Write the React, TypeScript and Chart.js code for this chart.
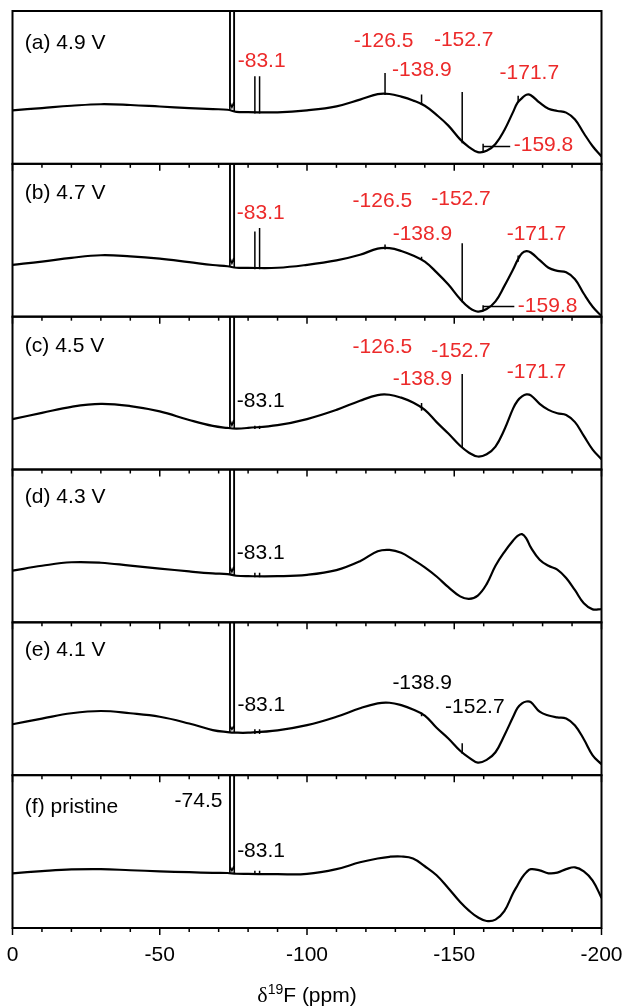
import React, { useEffect, useRef } from 'react';
import { Chart, registerables } from 'chart.js';

Chart.register(...registerables);

// ---------- data ----------
// broad spectrum sampling grid (ppm)
const ppm = [0, -10, -20, -30, -40, -50, -60, -68, -73, -76, -80, -90, -100, -110, -118, -124, -128, -132, -136, -140, -144, -148, -152, -155, -158, -161, -164, -167, -170, -171.5, -173, -174.5, -176, -179, -182, -185, -188, -191, -194, -197, -200];

const specA = [0.35, 0.365, 0.38, 0.39, 0.385, 0.375, 0.365, 0.358, 0.354, 0.34, 0.338, 0.337, 0.35, 0.376, 0.42, 0.456, 0.457, 0.44, 0.415, 0.38, 0.32, 0.25, 0.16, 0.11, 0.077, 0.085, 0.13, 0.22, 0.34, 0.40, 0.43, 0.452, 0.449, 0.40, 0.36, 0.346, 0.335, 0.29, 0.2, 0.115, 0.048];
const specB = [0.339, 0.36, 0.385, 0.402, 0.395, 0.38, 0.357, 0.338, 0.33, 0.32, 0.319, 0.32, 0.339, 0.368, 0.405, 0.445, 0.448, 0.43, 0.40, 0.36, 0.29, 0.21, 0.115, 0.06, 0.033, 0.05, 0.1, 0.2, 0.31, 0.37, 0.415, 0.429, 0.42, 0.37, 0.32, 0.30, 0.29, 0.245, 0.15, 0.065, 0.004];
const specC = [0.33, 0.37, 0.41, 0.429, 0.415, 0.38, 0.324, 0.285, 0.272, 0.268, 0.272, 0.29, 0.33, 0.39, 0.45, 0.487, 0.489, 0.47, 0.438, 0.39, 0.31, 0.235, 0.155, 0.11, 0.085, 0.1, 0.15, 0.26, 0.40, 0.45, 0.478, 0.491, 0.485, 0.43, 0.39, 0.368, 0.357, 0.31, 0.22, 0.13, 0.067];
const specD = [0.338, 0.37, 0.393, 0.39, 0.371, 0.352, 0.333, 0.32, 0.316, 0.305, 0.302, 0.302, 0.311, 0.342, 0.40, 0.465, 0.474, 0.455, 0.41, 0.36, 0.30, 0.23, 0.17, 0.153, 0.175, 0.25, 0.37, 0.46, 0.535, 0.565, 0.577, 0.548, 0.49, 0.41, 0.37, 0.345, 0.29, 0.21, 0.125, 0.085, 0.087];
const specE = [0.333, 0.37, 0.405, 0.42, 0.405, 0.382, 0.338, 0.295, 0.282, 0.278, 0.278, 0.293, 0.327, 0.382, 0.438, 0.47, 0.474, 0.458, 0.43, 0.39, 0.31, 0.24, 0.16, 0.115, 0.082, 0.1, 0.15, 0.26, 0.382, 0.44, 0.47, 0.482, 0.478, 0.415, 0.39, 0.378, 0.371, 0.325, 0.235, 0.13, 0.071];
const specF = [0.358, 0.372, 0.383, 0.385, 0.378, 0.371, 0.365, 0.361, 0.36, 0.355, 0.354, 0.352, 0.354, 0.385, 0.43, 0.455, 0.466, 0.468, 0.455, 0.404, 0.345, 0.26, 0.17, 0.114, 0.07, 0.046, 0.055, 0.11, 0.229, 0.28, 0.33, 0.365, 0.385, 0.377, 0.358, 0.362, 0.385, 0.397, 0.37, 0.31, 0.197];

// sharp -74.5 ppm doublet (off scale at the tips)
const spikePpm = [-73.7, -73.8, -73.9, -74.5, -75.1, -75.2, -75.3];
const spikeA = [0.354, 20, 0.40, 0.37, 0.40, 20, 0.34];
const spikeB = [0.33, 20, 0.38, 0.35, 0.38, 20, 0.32];
const spikeC = [0.272, 20, 0.32, 0.29, 0.32, 20, 0.268];
const spikeD = [0.316, 20, 0.36, 0.33, 0.36, 20, 0.305];
const spikeE = [0.282, 20, 0.32, 0.30, 0.32, 20, 0.278];
const spikeF = [0.36, 20, 0.40, 0.375, 0.40, 20, 0.355];

// stick marks: [ppm, from, to]
const sticksA = [[-82.3, 0.33, 0.573], [-83.9, 0.33, 0.573], [-126.5, 0.45, 0.595], [-138.9, 0.385, 0.453], [-152.7, 0.135, 0.47], [-159.8, 0.08, 0.131], [-171.7, 0.4, 0.445]];
const sticksB = [[-82.3, 0.31, 0.558], [-83.9, 0.31, 0.58], [-126.5, 0.44, 0.473], [-138.9, 0.37, 0.392], [-152.7, 0.095, 0.48], [-159.8, 0.035, 0.075], [-171.7, 0.36, 0.40]];
const sticksC = [[-82.3, 0.265, 0.287], [-83.9, 0.265, 0.287], [-138.9, 0.385, 0.435], [-152.7, 0.14, 0.625]];
const sticksD = [[-82.3, 0.295, 0.325], [-83.9, 0.295, 0.325]];
const sticksE = [[-82.3, 0.27, 0.3], [-83.9, 0.27, 0.3], [-138.9, 0.385, 0.41], [-152.7, 0.14, 0.209]];
const sticksF = [[-82.3, 0.348, 0.375], [-83.9, 0.348, 0.375]];

// leader lines: [from ppm, to ppm, height]
const leadersA = [[-159.8, -169, 0.114]];
const leadersB = [[-159.8, -170.4, 0.067]];

// peak labels: [text, ppm, height, red?, align]
const labelsA: any[] = [['(a) 4.9 V', -4.2, 0.79, 0, 'left'], ['-83.1', -84.6, 0.67, 1, 'center'], ['-126.5', -126, 0.80, 1, 'center'], ['-152.7', -153.2, 0.81, 1, 'center'], ['-138.9', -139, 0.61, 1, 'center'], ['-171.7', -175.5, 0.595, 1, 'center'], ['-159.8', -170.2, 0.12, 1, 'left']];
const labelsB: any[] = [['(b) 4.7 V', -4.2, 0.808, 0, 'left'], ['-83.1', -84.3, 0.68, 1, 'center'], ['-126.5', -125.6, 0.754, 1, 'center'], ['-152.7', -152.3, 0.77, 1, 'center'], ['-138.9', -139.2, 0.54, 1, 'center'], ['-171.7', -177.9, 0.54, 1, 'center'], ['-159.8', -171.6, 0.067, 1, 'left']];
const labelsC: any[] = [['(c) 4.5 V', -4.2, 0.808, 0, 'left'], ['-83.1', -84.3, 0.446, 0, 'center'], ['-126.5', -125.6, 0.80, 1, 'center'], ['-152.7', -152.3, 0.777, 1, 'center'], ['-138.9', -139.2, 0.59, 1, 'center'], ['-171.7', -177.9, 0.636, 1, 'center']];
const labelsD: any[] = [['(d) 4.3 V', -4.2, 0.816, 0, 'left'], ['-83.1', -84.3, 0.453, 0, 'center']];
const labelsE: any[] = [['(e) 4.1 V', -4.2, 0.816, 0, 'left'], ['-83.1', -84.5, 0.46, 0, 'center'], ['-138.9', -139.1, 0.60, 0, 'center'], ['-152.7', -157.0, 0.447, 0, 'center']];
const labelsF: any[] = [['(f) pristine', -4.2, 0.79, 0, 'left'], ['-74.5', -71.3, 0.83, 0, 'right'], ['-83.1', -84.4, 0.502, 0, 'center']];

const majorTicks = [0, -50, -100, -150, -200];
const minorTicks = [-10, -20, -30, -40, -60, -70, -80, -90, -110, -120, -130, -140, -160, -170, -180, -190];

const panels = [
  { spec: specA, spike: spikeA, sticks: sticksA, leaders: leadersA, labels: labelsA },
  { spec: specB, spike: spikeB, sticks: sticksB, leaders: leadersB, labels: labelsB },
  { spec: specC, spike: spikeC, sticks: sticksC, leaders: [], labels: labelsC },
  { spec: specD, spike: spikeD, sticks: sticksD, leaders: [], labels: labelsD },
  { spec: specE, spike: spikeE, sticks: sticksE, leaders: [], labels: labelsE },
  { spec: specF, spike: spikeF, sticks: sticksF, leaders: [], labels: labelsF },
];

// ---------- layout ----------
const W = 625;
const H = 1007;
const PLOT_LEFT = 12.5;
const PLOT_RIGHT = 601.5;
const PLOT_TOP = 11;
const PLOT_BOTTOM = 928;
const PANEL_H = (PLOT_BOTTOM - PLOT_TOP) / panels.length;
const SANS = '"Liberation Sans", Arial, Helvetica, sans-serif';
const SERIF = '"Liberation Serif", "Times New Roman", serif';
const RED = '#ec2a2a';

Chart.defaults.font.family = SANS;

function makeConfig(p: any, i: number): any {
  const isBottom = i === panels.length - 1;
  const top = PLOT_TOP + i * PANEL_H;
  const bottom = top + PANEL_H;

  const curve = ppm.map((x, k) => ({ x, y: p.spec[k] }));
  const spike = spikePpm.map((x, k) => ({ x, y: p.spike[k] }));
  const stickPts: any[] = [];
  p.sticks.forEach((s: number[]) => {
    stickPts.push({ x: s[0], y: s[1] }, { x: s[0], y: s[2] }, { x: s[0], y: null });
  });
  p.leaders.forEach((l: number[]) => {
    stickPts.push({ x: l[0], y: l[2] }, { x: l[1], y: l[2] }, { x: l[1], y: null });
  });

  const deco = {
    id: 'deco' + i,
    afterDatasetsDraw(chart: any) {
      const { ctx, chartArea: a, scales } = chart;
      const xs = scales.x;
      const ys = scales.y;
      ctx.save();
      ctx.strokeStyle = '#000';
      ctx.lineWidth = 2;
      ctx.strokeRect(a.left, a.top, a.right - a.left, a.bottom - a.top);
      ctx.lineWidth = 1.5;
      const drawTick = (v: number, len: number) => {
        const px = xs.getPixelForValue(v);
        ctx.beginPath();
        ctx.moveTo(px, a.bottom);
        ctx.lineTo(px, a.bottom + len);
        ctx.stroke();
      };
      majorTicks.forEach((v) => drawTick(v, 7));
      minorTicks.forEach((v) => drawTick(v, 4));

      ctx.font = '21px ' + SANS;
      ctx.textBaseline = 'middle';
      p.labels.forEach((l: any[]) => {
        ctx.fillStyle = l[3] ? RED : '#000';
        ctx.textAlign = l[4];
        ctx.fillText(l[0], xs.getPixelForValue(l[1]), ys.getPixelForValue(l[2]));
      });

      if (isBottom) {
        const base = 1002;
        const cx = (a.left + a.right) / 2;
        const f1 = '22px ' + SERIF;
        const f2 = '14px ' + SANS;
        const f3 = '21px ' + SANS;
        ctx.font = f1; const w1 = ctx.measureText('δ').width;
        ctx.font = f2; const w2 = ctx.measureText('19').width;
        ctx.font = f3; const w3 = ctx.measureText('F (ppm)').width;
        let x0 = cx - (w1 + w2 + w3) / 2;
        ctx.fillStyle = '#000';
        ctx.textAlign = 'left';
        ctx.textBaseline = 'alphabetic';
        ctx.font = f1; ctx.fillText('δ', x0, base); x0 += w1;
        ctx.font = f2; ctx.fillText('19', x0, base - 8); x0 += w2;
        ctx.font = f3; ctx.fillText('F (ppm)', x0, base);
      }
      ctx.restore();
    },
  };

  const xScale: any = {
    type: 'linear',
    min: -200,
    max: 0,
    reverse: true,
    display: isBottom,
    grid: { display: false, drawTicks: false },
    border: { display: false },
    ticks: {
      autoSkip: false,
      maxRotation: 0,
      padding: 15,
      color: '#000',
      font: { size: 21, family: SANS },
      callback: (v: any) => String(v),
    },
  };
  if (isBottom) {
    xScale.afterBuildTicks = (s: any) => {
      s.ticks = majorTicks.map((v) => ({ value: v }));
    };
    xScale.afterFit = (s: any) => {
      s.height = H - PLOT_BOTTOM;
      s.paddingLeft = 0;
      s.paddingRight = 0;
    };
  }

  return {
    type: 'line',
    data: {
      datasets: [
        {
          data: curve,
          borderColor: '#000',
          borderWidth: 2.2,
          pointRadius: 0,
          fill: false,
          tension: 0.4,
        },
        {
          data: spike,
          borderColor: '#000',
          borderWidth: 1.6,
          pointRadius: 0,
          fill: false,
          tension: 0,
        },
        {
          data: stickPts,
          borderColor: '#000',
          borderWidth: 1.5,
          pointRadius: 0,
          fill: false,
          tension: 0,
          spanGaps: false,
        },
      ],
    },
    options: {
      responsive: false,
      animation: false,
      events: [],
      layout: {
        padding: {
          left: PLOT_LEFT,
          right: W - PLOT_RIGHT,
          top: top,
          bottom: isBottom ? 0 : H - bottom,
        },
      },
      plugins: {
        legend: { display: false },
        tooltip: { enabled: false },
        title: { display: false },
      },
      scales: {
        x: xScale,
        y: { type: 'linear', min: 0, max: 1, display: false },
      },
    },
    plugins: [deco],
  };
}

export default function App() {
  const refs = useRef<(HTMLCanvasElement | null)[]>([]);
  useEffect(() => {
    const charts = panels.map((p, i) => new Chart(refs.current[i] as HTMLCanvasElement, makeConfig(p, i)));
    return () => charts.forEach((c) => c.destroy());
  }, []);
  return (
    <div style={{ position: 'absolute', left: 0, top: 0, width: W, height: H, background: '#fff' }}>
      {panels.map((_, i) => (
        <canvas
          key={i}
          ref={(el) => {
            refs.current[i] = el;
          }}
          width={W}
          height={H}
          style={{ position: 'absolute', left: 0, top: 0, width: W, height: H }}
        />
      ))}
    </div>
  );
}
